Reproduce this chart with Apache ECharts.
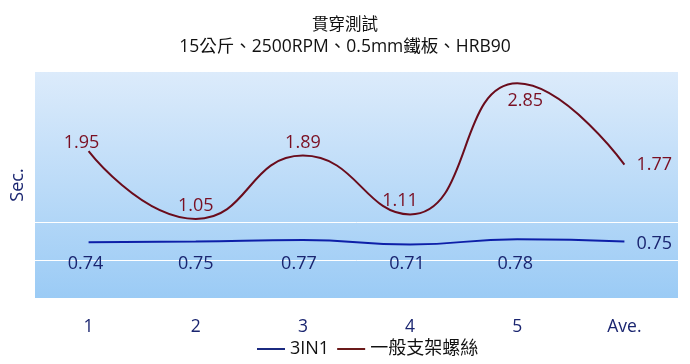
<!DOCTYPE html>
<html><head><meta charset="utf-8">
<script src="https://cdn.jsdelivr.net/npm/echarts@6/dist/echarts.min.js"></script>
<style>html,body{margin:0;padding:0;background:#fff}#c{width:690px;height:364px}</style>
</head><body><div id="c"></div>
<script>
const categories = ['1','2','3','4','5','Ave.'];
const series3in1 = [0.74, 0.75, 0.77, 0.71, 0.78, 0.75];
const seriesScrew = [1.95, 1.05, 1.89, 1.11, 2.85, 1.77];
const seriesNames = ['3IN1', '一般支架螺絲'];
const titleText = '貫穿測試';
const subtitleText = '15公斤、2500RPM、0.5mm鐵板、HRB90';

const FONT = '"Open Sans","Noto Sans CJK TC",sans-serif';
const chart = echarts.init(document.getElementById('c'));
const clear = 'rgba(0,0,0,0)';

// label placement tweaks (styles only, values come from the arrays above)
const blueDx = [-3, 0, -4, -3, -2, 0];
const redDx = [-7, 0, 0, -10, 8, 0];
const redDy = [5, 0, 0, 0, 0, 0];
const blueLabelRowY = 264; // Excel-style: lower labels share one row

function buildData(values, isRed) {
  return values.map(function (v, i) {
    const item = {value: v};
    if (i === values.length - 1) {
      item.label = {position: 'right', distance: 12};
    } else if (isRed && i === 4) {
      item.label = {position: 'bottom', distance: 9};
    }
    return item;
  });
}

chart.setOption({
  animation: false,
  title: {
    text: titleText, subtext: subtitleText, left: 'center', top: 10, itemGap: 7,
    textStyle: {fontSize: 16.5, fontWeight: 'normal', color: '#111', fontFamily: '"Noto Sans CJK TC",sans-serif'},
    subtextStyle: {fontSize: 17.5, color: '#111', fontFamily: FONT}
  },
  legend: {
    bottom: 1, left: 252, itemWidth: 28, itemHeight: 2, itemGap: 8,
    icon: 'rect',
    textStyle: {fontSize: 18, color: '#111', fontFamily: FONT, padding: [0,0,0,0]},
    data: seriesNames
  },
  grid: {
    left: 35, right: 12, top: 72, bottom: 66, show: true, borderWidth: 0,
    backgroundColor: new echarts.graphic.LinearGradient(0,0,0,1,[
      {offset:0,color:'#dcebfb'},{offset:1,color:'#9bcbf5'}])
  },
  xAxis: {
    type: 'category', data: categories, boundaryGap: true,
    axisLine: {show: false}, axisTick: {show: false},
    axisLabel: {fontSize: 17.5, color: '#1a2570', margin: 20, fontFamily: FONT}
  },
  yAxis: {
    type: 'value', min: 0, max: 3, interval: 0.5,
    name: 'Sec.', nameLocation: 'middle', nameGap: 8, nameRotate: 90,
    nameTextStyle: {fontSize: 18, color: '#1a2570', fontFamily: FONT},
    axisLabel: {show: false}, axisLine: {show: false}, axisTick: {show: false},
    splitLine: {show: true, lineStyle: {width: 1, color: [clear, '#ffffff', '#ffffff', clear, clear, clear, clear]}}
  },
  series: [
    {
      name: seriesNames[0], type: 'line', smooth: 0.5, data: buildData(series3in1, false),
      symbol: 'circle', symbolSize: 0.1, showSymbol: true, color: '#1b2a80',
      lineStyle: {width: 2, color: '#0d1fa8'},
      label: {show: true, position: 'bottom', distance: 12, fontSize: 18, color: '#1a2570', fontFamily: FONT},
      labelLayout: function (p) {
        if (p.dataIndex === series3in1.length - 1) return {dy: 2};
        const r = p.labelRect;
        return {dx: blueDx[p.dataIndex], dy: blueLabelRowY - (r.y + r.height / 2)};
      }
    },
    {
      name: seriesNames[1], type: 'line', smooth: 0.5, data: buildData(seriesScrew, true),
      symbol: 'circle', symbolSize: 0.1, showSymbol: true, color: '#6b1a1a',
      lineStyle: {width: 2, color: '#6a0c1c'},
      label: {show: true, position: 'top', distance: 4, fontSize: 18, color: '#7a0f22', fontFamily: FONT},
      labelLayout: function (p) { return {dx: redDx[p.dataIndex], dy: redDy[p.dataIndex]}; }
    }
  ]
});
</script></body></html>
